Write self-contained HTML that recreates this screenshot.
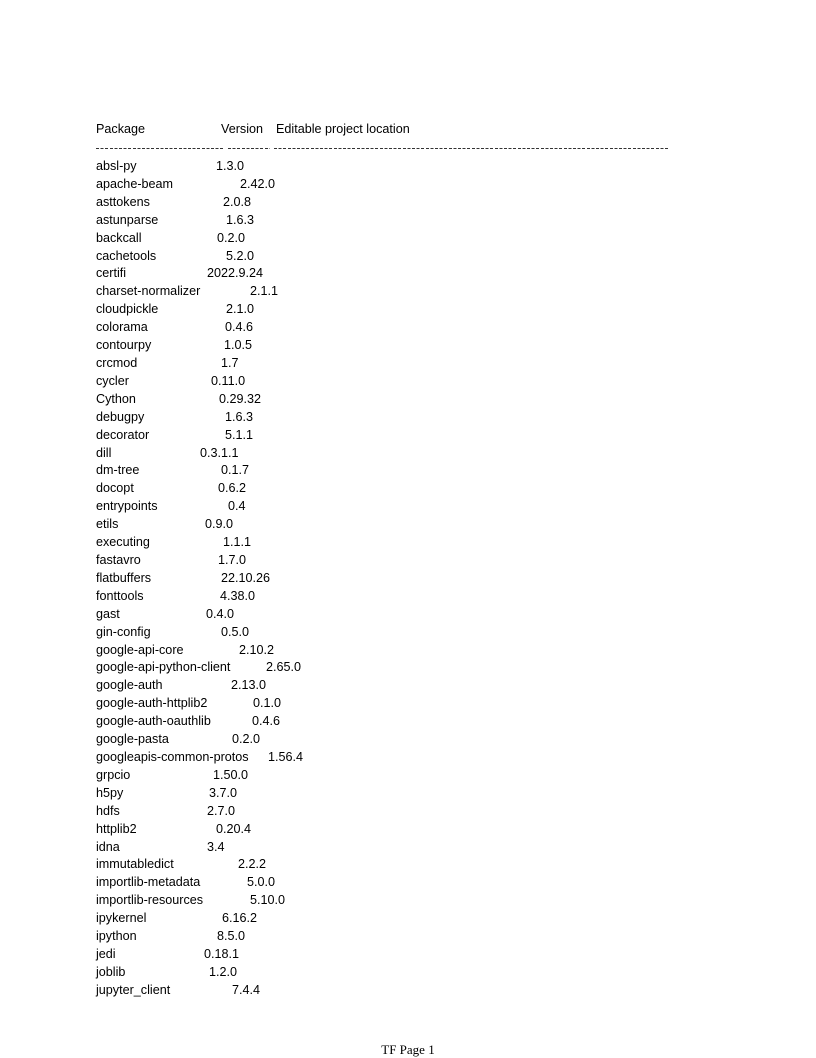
<!DOCTYPE html>
<html>
<head>
<meta charset="utf-8">
<style>
  html,body{margin:0;padding:0;background:#fff;}
  body{width:816px;height:1058px;position:relative;overflow:hidden;font-family:"Liberation Sans",sans-serif;font-size:12.6px;color:#000;}
  .t{position:absolute;white-space:nowrap;line-height:14px;}
  .dash{position:absolute;height:1px;top:148px;background:repeating-linear-gradient(90deg,#333 0 3px,transparent 3px 4.6px);}
  #footer{position:absolute;top:1042px;left:0;width:816px;text-align:center;font-family:"Liberation Serif",serif;font-size:13px;}
</style>
</head>
<body>
<div class="t" style="left:96px;top:122px">Package</div>
<div class="t" style="left:221px;top:122px">Version</div>
<div class="t" style="left:276px;top:122px">Editable project location</div>
<div class="dash" style="left:96px;width:129px"></div>
<div class="dash" style="left:228px;width:42px"></div>
<div class="dash" style="left:274px;width:394px"></div>
<div id="rows"></div>
<div id="footer">TF Page 1</div>
<script>
const names=["absl-py","apache-beam","asttokens","astunparse","backcall","cachetools","certifi","charset-normalizer","cloudpickle","colorama","contourpy","crcmod","cycler","Cython","debugpy","decorator","dill","dm-tree","docopt","entrypoints","etils","executing","fastavro","flatbuffers","fonttools","gast","gin-config","google-api-core","google-api-python-client","google-auth","google-auth-httplib2","google-auth-oauthlib","google-pasta","googleapis-common-protos","grpcio","h5py","hdfs","httplib2","idna","immutabledict","importlib-metadata","importlib-resources","ipykernel","ipython","jedi","joblib","jupyter_client"];
const versions=["1.3.0","2.42.0","2.0.8","1.6.3","0.2.0","5.2.0","2022.9.24","2.1.1","2.1.0","0.4.6","1.0.5","1.7","0.11.0","0.29.32","1.6.3","5.1.1","0.3.1.1","0.1.7","0.6.2","0.4","0.9.0","1.1.1","1.7.0","22.10.26","4.38.0","0.4.0","0.5.0","2.10.2","2.65.0","2.13.0","0.1.0","0.4.6","0.2.0","1.56.4","1.50.0","3.7.0","2.7.0","0.20.4","3.4","2.2.2","5.0.0","5.10.0","6.16.2","8.5.0","0.18.1","1.2.0","7.4.4"];
const vx=[216,240,223,226,217,226,207,250,226,225,224,221,211,219,225,225,200,221,218,228,205,223,218,221,220,206,221,239,266,231,253,252,232,268,213,209,207,216,207,238,247,250,222,217,204,209,232];
const rows=document.getElementById('rows');
for(let i=0;i<names.length;i++){
  const y=159+i*17.91;
  const n=document.createElement('div');
  n.className='t';n.style.left='96px';n.style.top=y+'px';n.textContent=names[i];
  
  
  rows.appendChild(n);
  const v=document.createElement('div');
  v.className='t';v.style.left=vx[i]+'px';v.style.top=y+'px';v.textContent=versions[i];
  
  
  rows.appendChild(v);
}
</script>
</body>
</html>
